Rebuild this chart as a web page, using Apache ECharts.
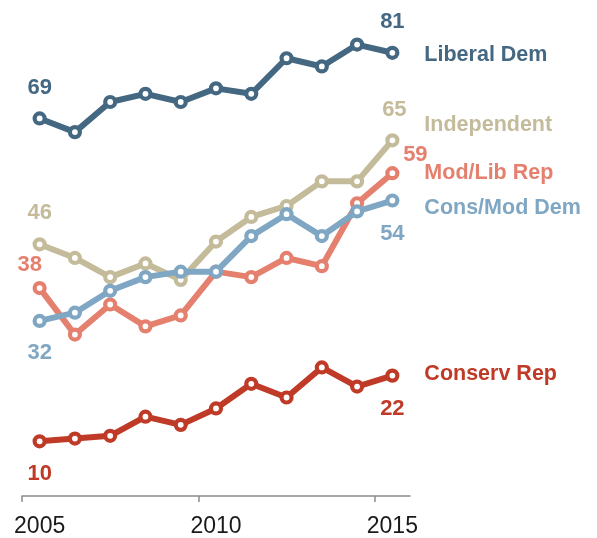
<!DOCTYPE html>
<html>
<head>
<meta charset="utf-8">
<script src="https://cdn.jsdelivr.net/npm/echarts@6/dist/echarts.min.js"></script>
<style>
html,body{margin:0;padding:0;background:#fff;}
#chart{width:597px;height:538px;}
</style>
</head>
<body>
<div id="chart"></div>
<script>
var years = [2005, 2006, 2007, 2008, 2009, 2010, 2011, 2012, 2013, 2014, 2015];
var tickLabels = [2005, 2010, 2015];
var liberalDem = [69, 66.5, 72, 73.5, 72, 74.5, 73.5, 80, 78.5, 82.5, 81];
var independent = [46, 43.5, 40, 42.5, 39.5, 46.5, 51, 53, 57.5, 57.5, 65];
var modLibRep = [38, 29.5, 35, 31, 33, 41, 40, 43.5, 42, 53.5, 59];
var consModDem = [32, 33.5, 37.5, 40, 41, 41, 47.5, 51.5, 47.5, 52, 54];
var conservRep = [10, 10.5, 11, 14.5, 13, 16, 20.5, 18, 23.5, 20, 22];

var FONT = '"Liberation Sans", Arial, sans-serif';

function mkSeries(name, values, color, firstOff, lastOff, nameOff, z) {
  var data = values.map(function (v, i) {
    var d = { value: [years[i], v] };
    var off = i === 0 ? firstOff : (i === values.length - 1 ? lastOff : null);
    if (off) {
      d.label = {
        show: true,
        position: 'inside',
        offset: off,
        formatter: String(Math.round(v)),
        color: color,
        fontFamily: FONT,
        fontWeight: 'bold',
        fontSize: 22
      };
    }
    return d;
  });
  return {
    name: name,
    type: 'line',
    z: z,
    data: data,
    symbol: 'circle',
    symbolSize: 10,
    showAllSymbol: true,
    lineStyle: { color: color, width: 6 },
    itemStyle: { color: '#fff', borderColor: color, borderWidth: 4.2 },
    label: { show: false },
    emphasis: { disabled: true },
    endLabel: {
      show: true,
      formatter: name,
      color: color,
      fontFamily: FONT,
      fontWeight: 'bold',
      fontSize: 21.5,
      distance: 32,
      offset: nameOff
    },
    animation: false
  };
}

var chart = echarts.init(document.getElementById('chart'));
chart.setOption({
  animation: false,
  grid: { left: 22, right: 187, top: 9, bottom: 40 },
  xAxis: {
    type: 'value',
    min: 2004.5,
    max: 2015.5,
    splitLine: { show: false },
    axisLine: { show: true, lineStyle: { color: '#8c8c8c', width: 1.5 } },
    axisTick: { show: true, customValues: [2004.5, 2009.5, 2014.5], length: 6, inside: false, lineStyle: { color: '#8c8c8c', width: 1.5 } },
    axisLabel: {
      customValues: tickLabels,
      formatter: function (v) { return String(v); },
      color: '#1a1a1a',
      fontFamily: FONT,
      fontSize: 23,
      margin: 19
    }
  },
  yAxis: {
    type: 'value',
    min: 0,
    max: 89,
    show: false,
    splitLine: { show: false }
  },
  series: [
    mkSeries('Independent', independent, '#c4bb9b', [0, -31], [2, -30], [0, -15], 2),
    mkSeries('Mod/Lib Rep', modLibRep, '#e5806f', [-10, -23], [23, -18], [0, 0], 3),
    mkSeries('Cons/Mod Dem', consModDem, '#7fa7c3', [0, 32], [0, 33], [0, 8], 4),
    mkSeries('Liberal Dem', liberalDem, '#446882', [0, -31], [0, -31], [0, 2], 5),
    mkSeries('Conserv Rep', conservRep, '#bf3a27', [0, 33], [0, 33], [0, -2], 6)
  ]
});
</script>
</body>
</html>
